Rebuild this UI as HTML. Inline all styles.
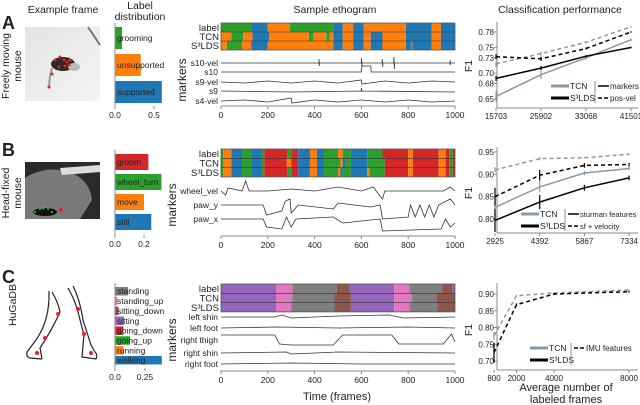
<!DOCTYPE html>
<html><head><meta charset="utf-8"><style>
html,body{margin:0;padding:0;background:#fff;}
svg{display:block;font-family:"Liberation Sans",sans-serif;}
</style></head><body>
<svg id="fig" width="640" height="405" viewBox="0 0 640 405" xmlns="http://www.w3.org/2000/svg">
<g fill="#222">
<text x="63" y="13" font-size="10.5" text-anchor="middle">Example frame</text>
<text x="140" y="9" font-size="10.5" text-anchor="middle">Label</text>
<text x="140" y="20" font-size="10.5" text-anchor="middle">distribution</text>
<text x="335" y="13" font-size="10.5" text-anchor="middle">Sample ethogram</text>
<text x="560" y="13" font-size="10.5" text-anchor="middle">Classification performance</text>
<text x="2" y="29" font-size="18" font-weight="bold">A</text>
<text x="2" y="156" font-size="18" font-weight="bold">B</text>
<text x="2" y="283" font-size="18" font-weight="bold">C</text>
<text transform="translate(9,66) rotate(-90)" font-size="10.5" text-anchor="middle">Freely moving</text>
<text transform="translate(21,66) rotate(-90)" font-size="10.5" text-anchor="middle">mouse</text>
<text transform="translate(9,193) rotate(-90)" font-size="10.5" text-anchor="middle">Head-fixed</text>
<text transform="translate(21,193) rotate(-90)" font-size="10.5" text-anchor="middle">mouse</text>
<text transform="translate(16,305) rotate(-90)" font-size="10.5" text-anchor="middle">HuGaDB</text>
<text transform="translate(186,80) rotate(-90)" font-size="12" text-anchor="middle">markers</text>
<text transform="translate(176,205) rotate(-90)" font-size="12" text-anchor="middle">markers</text>
<text transform="translate(176,340) rotate(-90)" font-size="12" text-anchor="middle">markers</text>
<text x="337" y="400" font-size="11" text-anchor="middle">Time (frames)</text>
<text x="566" y="391" font-size="11" text-anchor="middle">Average number of</text>
<text x="566" y="403" font-size="11" text-anchor="middle">labeled frames</text>
<text transform="translate(472,66) rotate(-90)" font-size="10.5" text-anchor="middle">F1</text>
<text transform="translate(472,193) rotate(-90)" font-size="10.5" text-anchor="middle">F1</text>
<text transform="translate(472,330) rotate(-90)" font-size="10.5" text-anchor="middle">F1</text>
</g>
<g>
<defs><linearGradient id="ga" x1="0" y1="0" x2="1" y2="1"><stop offset="0" stop-color="#e4e4e4"/><stop offset="1" stop-color="#f4f4f4"/></linearGradient></defs>
<rect x="25" y="27" width="75" height="74" fill="url(#ga)"/>
<line x1="88" y1="27" x2="100" y2="45" stroke="#777" stroke-width="2"/>
<ellipse cx="63" cy="64" rx="12" ry="7" fill="#2a2a2a"/>
<ellipse cx="74" cy="67" rx="6" ry="4" fill="#bbb"/>
<path d="M52,68 L50,76 L49,86" stroke="#999" stroke-width="2" fill="none"/>
<g fill="#e8202a"><circle cx="55" cy="60" r="1.5"/><circle cx="60" cy="57" r="1.5"/><circle cx="64" cy="60" r="1.5"/><circle cx="67" cy="62" r="1.5"/><circle cx="70" cy="60" r="1.5"/><circle cx="59" cy="67" r="1.5"/><circle cx="65" cy="66" r="1.5"/><circle cx="69" cy="65" r="1.5"/><circle cx="52" cy="74" r="1.5"/><circle cx="49" cy="87" r="1.5"/></g>
</g>
<g>
<rect x="25" y="162" width="75" height="57" fill="#2a2a2a"/>
<path d="M25,178 Q45,165 70,172 Q90,180 92,200 L80,219 L25,219 Z" fill="#7a7a7a"/>
<path d="M60,168 L100,165 L100,172 L62,175 Z" fill="#ddd"/>
<ellipse cx="45" cy="212" rx="12" ry="4" fill="#111"/>
<g fill="#3c3"><circle cx="35" cy="212" r="1"/><circle cx="40" cy="209" r="1"/><circle cx="43" cy="208" r="1.5"/><circle cx="48" cy="209" r="1"/><circle cx="52" cy="212" r="1"/></g>
<circle cx="61" cy="210" r="2" fill="#e8202a"/>
</g>
<g stroke="#222" stroke-width="1.2" fill="none">
<path d="M49,291 Q50,320 36,340 L27,352 Q26,357 30,358 L42,359"/>
<path d="M52,292 Q58,302 60,312 Q52,330 40,348 L42,359"/>
<path d="M68,288 Q75,300 78,312 L84,335 L82,357 L96,359 Q98,355 95,352"/>
<path d="M73,286 Q80,300 83,320 L91,345 L95,352"/>
<g fill="#e8202a" stroke="none"><circle cx="58" cy="314" r="2"/><circle cx="45" cy="338" r="2"/><circle cx="37" cy="353" r="2"/><circle cx="78" cy="309" r="2"/><circle cx="84" cy="334" r="2"/><circle cx="91" cy="353" r="2"/></g>
</g>
<g id="dyn"></g>
</svg>
<script>
// ---------- DATA ----------
const barCatsA = ["grooming","unsupported","supported"];
const barValsA = [0.09, 0.33, 0.60];
const barTicksA = [0.0, 0.5];
const barCatsB = ["groom","wheel_turn","move","still"];
const barValsB = [0.23, 0.32, 0.20, 0.25];
const barTicksB = [0.0, 0.2];
const barCatsC = ["standing","standing_up","sitting_down","sitting","going_down","going_up","running","walking"];
const barValsC = [0.11, 0.02, 0.03, 0.075, 0.07, 0.125, 0.07, 0.39];
const barTicksC = [0.0, 0.25];

const ethoLabelA = [[0,130,2],[130,200,0],[200,295,1],[295,480,2],[480,520,0],[520,565,1],[565,610,0],[610,790,1],[790,900,0],[900,940,1],[940,1000,0]];
const ethoTcnA = [[0,45,1],[45,95,2],[95,135,1],[135,205,0],[205,375,1],[375,395,2],[395,450,1],[450,465,2],[465,480,1],[480,520,0],[520,565,1],[565,610,0],[610,640,1],[640,690,0],[690,790,1],[790,900,0],[900,940,1],[940,1000,0]];
const ethoSldsA = [[0,25,1],[25,90,2],[90,130,1],[130,200,0],[200,480,1],[480,520,0],[520,565,1],[565,610,0],[610,640,1],[640,690,0],[690,790,1],[790,810,0],[810,820,7],[820,900,0],[900,940,1],[940,1000,0]];

const ethoLabelB = [[0,10,2],[10,45,1],[45,90,0],[90,130,2],[130,175,0],[175,185,2],[185,285,3],[285,300,2],[300,330,3],[330,380,0],[380,410,1],[410,440,0],[440,500,2],[500,520,1],[520,555,2],[555,625,0],[625,690,2],[690,800,3],[800,820,1],[820,930,3],[930,960,1],[960,975,3],[975,990,2],[990,1000,3]];
const ethoTcnB = [[0,10,2],[10,45,1],[45,90,0],[90,130,2],[130,175,0],[175,185,2],[185,280,3],[280,300,1],[300,330,3],[330,380,0],[380,410,1],[410,440,0],[440,510,2],[510,520,1],[520,530,0],[530,555,2],[555,625,0],[625,700,2],[700,800,3],[800,820,1],[820,930,3],[930,960,1],[960,975,3],[975,990,2],[990,1000,3]];
const ethoSldsB = [[0,10,2],[10,45,1],[45,90,0],[90,130,2],[130,175,0],[175,185,2],[185,285,3],[285,300,2],[300,330,3],[330,380,0],[380,410,1],[410,440,0],[440,500,2],[500,510,1],[510,520,0],[520,555,2],[555,625,0],[625,635,1],[635,700,2],[700,800,3],[800,820,1],[820,930,3],[930,960,1],[960,975,3],[975,990,2],[990,1000,3]];

const ethoLabelC = [[0,235,4],[235,305,5],[305,495,7],[495,550,6],[550,740,4],[740,805,5],[805,945,7],[945,990,6],[990,1000,4]];
const ethoTcnC = [[0,235,4],[235,305,5],[305,485,7],[485,555,6],[555,740,4],[740,815,5],[815,920,7],[920,1000,6]];
const ethoSldsC = [[0,235,4],[235,300,5],[300,485,7],[485,555,6],[555,740,4],[740,805,5],[805,925,7],[925,1000,6]];

const classColors = ["#1f77b4","#ff7f0e","#2ca02c","#d62728","#9467bd","#e377c2","#8c564b","#7f7f7f"];
const timeTicks = [0,200,400,600,800,1000];

const traceNamesA = ["s10-vel","s10","s9-vel","s9","s4-vel"];
const traceA0 = [[0,0],[418,0],[419,-4],[420,3],[421,0],[600,0],[601,-5],[602,4],[603,0],[688,0],[689,-4],[691,4],[692,0],[738,0],[739,-6],[741,6],[742,0],[978,0],[979,-3],[980,2],[981,0],[1000,0]];
const traceA1 = [[0,0],[600,0],[602,-6],[640,-6],[642,0],[1000,0]];
const traceA2 = [[0,0],[100,1],[200,-1],[300,1],[400,-1],[500,1],[600,-2],[601,2],[700,-1],[800,1],[900,-1],[1000,0]];
const traceA3 = [[0,0],[300,1],[599,0],[600,-3],[602,0],[1000,1]];
const traceA4 = [[0,0],[100,-1],[200,1],[300,-3],[302,2],[400,-1],[500,1],[600,-1],[700,1],[800,-1],[900,1],[1000,0]];
const traceNamesB = ["wheel_vel","paw_y","paw_x"];
const traceB0 = [[0,0],[20,4],[30,-3],[90,0],[105,-10],[120,0],[200,0],[300,-2],[400,0],[500,-4],[600,0],[650,-4],[690,8],[700,0],[950,0],[980,-4],[1000,0]];
const traceB1 = [[0,0],[180,0],[195,10],[260,6],[275,-4],[295,-6],[300,8],[330,0],[480,4],[500,-2],[640,2],[680,0],[690,14],[800,12],[810,0],[830,12],[850,0],[870,12],[890,0],[910,12],[930,0],[980,-6],[1000,0]];
const traceB2 = [[0,0],[180,0],[195,8],[260,10],[280,-2],[300,8],[320,0],[480,-2],[520,4],[680,0],[690,12],[940,10],[960,0],[980,8],[1000,4]];
const traceNamesC = ["left shin","left foot","right thigh","right shin","right foot"];
const traceC0 = [[0,0],[230,0],[260,-2],[300,1],[500,-1],[720,-2],[780,1],[1000,0]];
const traceC1 = [[0,0],[240,-1],[500,0],[800,-1],[1000,0]];
const traceC2 = [[0,-5],[230,-5],[250,4],[300,5],[480,5],[520,-5],[730,-5],[760,4],[950,4],[985,-6],[1000,2]];
const traceC3 = [[0,0],[280,-1],[300,1],[500,-1],[1000,0]];
const traceC4 = [[0,0],[300,-1],[600,0],[1000,0]];

const perfTicksA = ["15703","25902","33068","41501"];
const yTicksA = [0.65,0.68,0.70,0.73,0.75,0.78];
const tcnMarkersA = [0.655,0.697,0.730,0.765];
const tcnPosVelA = [0.718,0.738,0.760,0.790];
const sldsMarkersA = [0.690,0.710,0.733,0.750];
const sldsPosVelA = [0.732,0.728,0.748,0.780];
const errA = [0.01,0.008,0.004,0.003];

const perfTicksB = ["2925","4392","5867","7334"];
const yTicksB = [0.80,0.85,0.90,0.95];
const tcnSfB = [0.826,0.872,0.903,0.913];
const tcnSfvB = [0.910,0.935,0.937,0.945];
const sldsSfB = [0.797,0.838,0.870,0.892];
const sldsSfvB = [0.850,0.898,0.920,0.922];
const errB = [0.02,0.012,0.005,0.004];

const perfXC = [800,2000,4000,8000];
const yTicksC = [0.70,0.75,0.80,0.85,0.90];
const tcnImuC = [0.775,0.895,0.903,0.912];
const sldsImuC = [0.725,0.868,0.900,0.907];
const errC = [0.03,0.004,0.003,0.003];

// ---------- DRAW ----------
const NS="http://www.w3.org/2000/svg";
const root=document.getElementById('dyn');
function mk(tag,attrs,parent){const e=document.createElementNS(NS,tag);for(const k in attrs)e.setAttribute(k,attrs[k]);(parent||root).appendChild(e);return e;}
function txt(x,y,s,size,anchor,parent){const t=mk('text',{x:x,y:y,'font-size':size,'text-anchor':anchor||'start',fill:'#222'},parent);t.textContent=s;return t;}

function barChart(name,cats,vals,ticks,x0,pxPerUnit,yTop,barH,gap,axisBottom,colors,fs){
  const g=mk('g',{});
  
  
  const xs=v=>x0+v*pxPerUnit;
  cats.forEach((c,i)=>{
    const y=yTop+i*(barH+gap);
    const r=mk('rect',{x:xs(0),y:y,width:xs(vals[i])-xs(0),height:barH,fill:colors[i]},g);
    
    
    const t=txt(x0+2,y+barH/2+fs*0.35,c,fs,'start',g);
    
    
  });
  mk('line',{x1:x0,y1:yTop-4,x2:x0,y2:axisBottom,stroke:'#888','stroke-width':1},g);
  ticks.forEach(v=>{
    mk('line',{x1:xs(v),y1:axisBottom,x2:xs(v),y2:axisBottom+3,stroke:'#888'},g);
    const t=txt(xs(v),axisBottom+12,v.toFixed(v===0.25?2:1),8.5,'middle',g);
    
    
  });
}
barChart('label-distribution-a',barCatsA,barValsA,barTicksA,115,78,27,22,5,106,[classColors[2],classColors[1],classColors[0]],8.5);
barChart('label-distribution-b',barCatsB,barValsB,barTicksB,115,145,154,16,4,235,[classColors[3],classColors[2],classColors[1],classColors[0]],8.5);
barChart('label-distribution-c',barCatsC,barValsC,barTicksC,115,120,287,8.5,1.35,368,[classColors[7],classColors[5],classColors[6],classColors[4],classColors[3],classColors[2],classColors[1],classColors[0]],8.5);

function ethogram(name,rows,yTop,rowH,traces,traceNames,traceYs,axisY){
  const g=mk('g',{});
  
  
  const X0=221,X1=455;
  const xs=f=>X0+f*(X1-X0)/1000;
  const rowNames=['label','TCN','S³LDS'];
  rows.forEach((segs,ri)=>{
    const y=yTop+ri*rowH;
    segs.forEach(s=>{
      const r=mk('rect',{x:xs(s[0]),y:y,width:xs(s[1])-xs(s[0]),height:rowH,fill:classColors[s[2]]},g);
      
      
    });
    const t=txt(X0-2,y+rowH/2+3.5,rowNames[ri],9.5,'end',g);
    
    
  });
  mk('rect',{x:X0,y:yTop,width:X1-X0,height:rowH*3,fill:'none',stroke:'#555','stroke-width':0.8},g);
  mk('line',{x1:X0,y1:yTop+rowH,x2:X1,y2:yTop+rowH,stroke:'#333','stroke-width':0.6},g);
  mk('line',{x1:X0,y1:yTop+2*rowH,x2:X1,y2:yTop+2*rowH,stroke:'#333','stroke-width':0.6},g);
  traces.forEach((tr,i)=>{
    const d=tr.map((p,j)=>(j?'L':'M')+xs(p[0]).toFixed(1)+','+(traceYs[i]+p[1]).toFixed(1)).join(' ');
    const p=mk('path',{d:d,fill:'none',stroke:'#333','stroke-width':0.8},g);
    
    
    const t=txt(X0-3,traceYs[i]+3,traceNames[i],8.5,'end',g);
    
    
  });
  mk('line',{x1:X0,y1:axisY,x2:X1,y2:axisY,stroke:'#888'},g);
  timeTicks.forEach(v=>{
    mk('line',{x1:xs(v),y1:axisY,x2:xs(v),y2:axisY+3,stroke:'#888'},g);
    const t=txt(xs(v),axisY+12,String(v),8.5,'middle',g);
    
    
  });
}
ethogram('ethogram-a',[ethoLabelA,ethoTcnA,ethoSldsA],23,9,[traceA0,traceA1,traceA2,traceA3,traceA4],traceNamesA,[63,72,82,91,101],106);
ethogram('ethogram-b',[ethoLabelB,ethoTcnB,ethoSldsB],149,9.3,[traceB0,traceB1,traceB2],traceNamesB,[191,205,219],236);
ethogram('ethogram-c',[ethoLabelC,ethoTcnC,ethoSldsC],284,9.3,[traceC0,traceC1,traceC2,traceC3,traceC4],traceNamesC,[317,328,340,353,364],371);

function perfChart(name,xpos,xlabels,yTicks,yScale,series,axisTop,axisBottom,legend){
  const g=mk('g',{});
  
  
  const AX=497;
  mk('line',{x1:AX,y1:axisTop,x2:AX,y2:axisBottom,stroke:'#888'},g);
  mk('line',{x1:AX,y1:axisBottom,x2:638,y2:axisBottom,stroke:'#888'},g);
  yTicks.forEach(v=>{
    const y=yScale(v);
    mk('line',{x1:AX-3,y1:y,x2:AX,y2:y,stroke:'#888'},g);
    const t=txt(AX-3,y+3,v.toFixed(2),8,'end',g);
    
    
  });
  xpos.forEach((x,i)=>{
    mk('line',{x1:x,y1:axisBottom,x2:x,y2:axisBottom+3,stroke:'#888'},g);
    const t=txt(x,axisBottom+11,xlabels[i],8,'middle',g);
    
    
  });
  series.forEach(s=>{
    const d=s.vals.map((v,i)=>(i?'L':'M')+xpos[i].toFixed(1)+','+yScale(v).toFixed(1)).join(' ');
    const p=mk('path',{d:d,fill:'none',stroke:s.color,'stroke-width':1.5,'stroke-dasharray':s.dash||'none'},g);
    
    
    s.vals.forEach((v,i)=>{
      const e=s.err[i];
      const eb=mk('line',{x1:xpos[i],y1:yScale(v-e),x2:xpos[i],y2:yScale(v+e),stroke:s.color,'stroke-width':1.2},g);
      
      
    });
  });
  const lg=mk('g',{},g);
  
  
  const L=legend;
  mk('line',{x1:L.x,y1:L.y1,x2:L.x+18,y2:L.y1,stroke:'#8899aa','stroke-width':3},lg);
  txt(L.x+19,L.y1+3,'TCN',8.5,'start',lg);
  mk('line',{x1:L.x,y1:L.y2,x2:L.x+18,y2:L.y2,stroke:'#000','stroke-width':3},lg);
  txt(L.x+19,L.y2+3,'S³LDS',8.5,'start',lg);
  mk('line',{x1:L.sep,y1:L.y1-5,x2:L.sep,y2:L.y2+5,stroke:'#888'},lg);
  L.items.forEach((it,i)=>{
    const y=i?L.y2:L.y1;
    mk('line',{x1:L.sep+3,y1:y,x2:L.sep+14,y2:y,stroke:'#000','stroke-width':1.5,'stroke-dasharray':it.dash||'none'},lg);
    txt(L.sep+15,y+3,it.label,L.fs||8,'start',lg);
  });
}
const ixA=i=>496+i*45;
const ysA=v=>32+(0.78-v)*515;
perfChart('perf-chart-a',[0,1,2,3].map(ixA),perfTicksA,yTicksA,ysA,[
  {name:'tcn-markers',vals:tcnMarkersA,err:errA,color:'#8899aa'},
  {name:'tcn-pos-vel',vals:tcnPosVelA,err:errA.map(e=>e*0.5),color:'#8899aa',dash:'4,3'},
  {name:'slds-markers',vals:sldsMarkersA,err:errA.map(e=>e*0.5),color:'#000'},
  {name:'slds-pos-vel',vals:sldsPosVelA,err:errA.map(e=>e*0.5),color:'#000',dash:'4,3'}
],22,108,{x:551,y1:86,y2:98,sep:595,items:[{label:'markers'},{label:'pos-vel',dash:'4,2'}]});

const ixB=i=>495+i*44.7;
const ysB=v=>152+(0.95-v)*447;
perfChart('perf-chart-b',[0,1,2,3].map(ixB),perfTicksB,yTicksB,ysB,[
  {name:'tcn-sturman',vals:tcnSfB,err:errB,color:'#8899aa'},
  {name:'tcn-sf-velocity',vals:tcnSfvB,err:errB.map(e=>e*0.3),color:'#8899aa',dash:'4,3'},
  {name:'slds-sturman',vals:sldsSfB,err:errB.map(e=>e*1.3),color:'#000'},
  {name:'slds-sf-velocity',vals:sldsSfvB,err:errB,color:'#000',dash:'4,3'}
],147,233,{x:521,y1:214,y2:226,sep:565,fs:7.5,items:[{label:'sturman features'},{label:'sf + velocity',dash:'4,2'}]});

const xsC=v=>494+(v-800)*135/7200;
const ysC=v=>294+(0.90-v)*335;
perfChart('perf-chart-c',perfXC.map(xsC),perfXC.map(String),yTicksC,ysC,[
  {name:'tcn-imu',vals:tcnImuC,err:errC.map(e=>e*0.4),color:'#8899aa',dash:'4,3'},
  {name:'slds-imu',vals:sldsImuC,err:errC,color:'#000',dash:'4,3'}
],283,370,{x:530,y1:348,y2:360,sep:571,items:[{label:'IMU features',dash:'4,2'}]});
</script>
</body></html>
